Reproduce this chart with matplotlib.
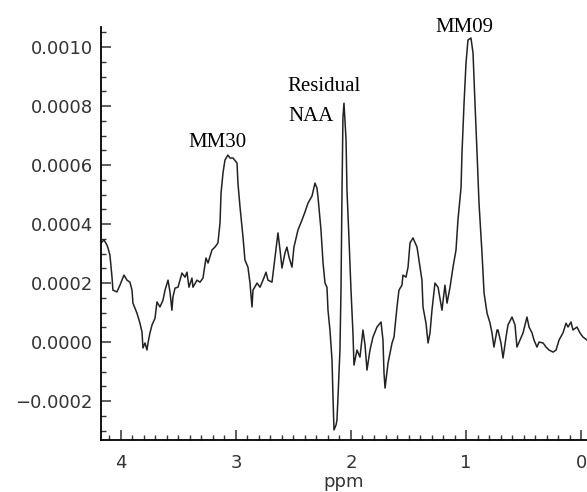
import matplotlib
matplotlib.use('Agg')
import matplotlib.pyplot as plt
from matplotlib.ticker import MultipleLocator, FuncFormatter

# chemical shift (ppm) left to right
ppm = [
    4.174, 4.148, 4.122, 4.113, 4.096, 4.078, 4.070, 4.035, 4.009, 3.974,
    3.948, 3.922, 3.904, 3.896, 3.861, 3.835, 3.817, 3.809, 3.791, 3.774,
    3.765, 3.748, 3.730, 3.704, 3.687, 3.661, 3.635, 3.617, 3.591, 3.574,
    3.557, 3.548, 3.530, 3.504, 3.470, 3.443, 3.426, 3.409, 3.383, 3.374,
    3.339, 3.313, 3.287, 3.261, 3.243, 3.209, 3.183, 3.157, 3.139, 3.130,
    3.113, 3.096, 3.070, 3.052, 3.026, 2.991, 2.983, 2.965, 2.939, 2.922,
    2.896, 2.878, 2.861, 2.852, 2.817, 2.791, 2.765, 2.739, 2.722, 2.687,
    2.661, 2.635, 2.617, 2.600, 2.574, 2.557, 2.539, 2.513, 2.496, 2.461,
    2.426, 2.400, 2.374, 2.339, 2.313, 2.296, 2.287, 2.261, 2.243, 2.226,
    2.209, 2.200, 2.183, 2.165, 2.157, 2.148, 2.130, 2.122, 2.113, 2.096,
    2.087, 2.078, 2.070, 2.061, 2.043, 2.035, 2.017, 2.000, 1.983, 1.974,
    1.948, 1.922, 1.896, 1.878, 1.861, 1.835, 1.809, 1.774, 1.739, 1.722,
    1.713, 1.704, 1.678, 1.643, 1.626, 1.600, 1.583, 1.557, 1.548, 1.522,
    1.504, 1.487, 1.461, 1.426, 1.400, 1.383, 1.374, 1.348, 1.330, 1.313,
    1.296, 1.270, 1.243, 1.209, 1.183, 1.165, 1.139, 1.113, 1.087, 1.070,
    1.043, 1.035, 1.017, 1.000, 0.983, 0.957, 0.939, 0.922, 0.904, 0.887,
    0.861, 0.843, 0.817, 0.791, 0.774, 0.757, 0.730, 0.722, 0.696, 0.678,
    0.652, 0.635, 0.600, 0.574, 0.557, 0.530, 0.504, 0.470, 0.452, 0.426,
    0.409, 0.383, 0.365, 0.330, 0.304, 0.278, 0.243, 0.217, 0.191, 0.157,
    0.130, 0.113, 0.087, 0.070, 0.035, 0.009, -0.017, -0.052,
]

# signal, in units of 1e-4
signal_e4 = [
    3.36, 3.46, 3.29, 3.19, 2.95, 2.20, 1.76, 1.70, 1.93, 2.27,
    2.10, 2.03, 1.76, 1.32, 0.98, 0.64, 0.34, -0.20, -0.03, -0.27,
    -0.03, 0.31, 0.58, 0.81, 1.36, 1.19, 1.42, 1.76, 2.10, 1.70,
    1.08, 1.53, 1.83, 1.86, 2.34, 2.20, 2.37, 1.86, 2.17, 1.86,
    2.10, 2.03, 2.17, 2.85, 2.68, 3.12, 3.22, 3.36, 4.03, 5.05,
    5.73, 6.17, 6.34, 6.24, 6.24, 6.07, 5.39, 4.58, 3.56, 2.78,
    2.54, 2.00, 1.19, 1.76, 2.00, 1.86, 2.10, 2.37, 2.10, 2.03,
    2.88, 3.70, 3.12, 2.51, 3.02, 3.22, 2.88, 2.54, 3.22, 3.80,
    4.14, 4.41, 4.71, 4.95, 5.39, 5.22, 4.92, 3.80, 2.68, 2.00,
    1.86, 1.08, 0.41, -0.61, -1.80, -2.98, -2.81, -2.64, -1.86, -0.27,
    1.76, 5.15, 7.63, 8.10, 6.85, 5.15, 3.46, 1.76, 0.31, -0.78,
    -0.27, -0.51, 0.41, -0.10, -0.95, -0.27, 0.17, 0.51, 0.68, 0.07,
    -1.05, -1.56, -0.71, -0.03, 0.17, 1.19, 1.76, 1.93, 2.27, 2.20,
    2.54, 3.36, 3.53, 3.22, 2.54, 2.10, 1.19, 0.64, -0.03, 0.31,
    1.08, 2.00, 1.86, 1.08, 1.93, 1.32, 1.86, 2.54, 3.12, 4.14,
    5.25, 6.41, 8.10, 9.46, 10.24, 10.31, 9.80, 8.10, 6.41, 4.71,
    3.02, 1.66, 0.98, 0.64, 0.31, -0.17, 0.41, 0.41, -0.03, -0.54,
    0.17, 0.58, 0.85, 0.58, -0.17, 0.07, 0.31, 0.85, 0.51, 0.31,
    0.07, -0.17, 0.00, -0.03, -0.17, -0.27, -0.34, -0.27, 0.07, 0.31,
    0.64, 0.51, 0.68, 0.41, 0.51, 0.31, 0.17, 0.07,
]
signal = [v * 1e-4 for v in signal_e4]

# peak labels: text, x (ppm), y, alignment
peak_labels = [
    ('MM30', 3.157, 0.00066, 'center'),
    ('Residual', 2.556, 0.000851, 'left'),
    ('NAA', 2.548, 0.000749, 'left'),
    ('MM09', 1.013, 0.00105, 'center'),
]

fig = plt.figure(figsize=(5.87, 4.92), dpi=100)
ax = fig.add_axes([0.172, 0.1057, 0.828, 0.8393])

ax.plot(ppm, signal, color='#222222', lw=1.1)

ax.set_xlim(4.174, -0.052)
ax.set_ylim(-0.000332, 0.001068)

ax.spines['top'].set_visible(False)
ax.spines['right'].set_visible(False)
ax.spines['left'].set_linewidth(1.3)
ax.spines['bottom'].set_linewidth(1.3)

ax.xaxis.set_major_locator(MultipleLocator(1))
ax.xaxis.set_minor_locator(MultipleLocator(0.1))
ax.yaxis.set_major_locator(MultipleLocator(0.0002))
ax.yaxis.set_minor_locator(MultipleLocator(0.00005))
ax.yaxis.set_major_formatter(
    FuncFormatter(lambda v, pos: f'{v:.4f}'.replace('-', '\u2212')))

ax.tick_params(which='major', direction='in', length=7, width=1.1,
               labelsize=13, colors='#333333')
ax.tick_params(axis='x', which='major', pad=10)
ax.tick_params(axis='y', which='major', pad=6)
ax.tick_params(which='minor', direction='in', length=3.5, width=1.0,
               colors='#333333')

ax.set_xlabel('ppm', fontsize=13, color='#333333', labelpad=1)

for text, x, y, ha in peak_labels:
    ax.text(x, y, text, ha=ha, va='baseline', fontsize=15,
            family='Liberation Serif', color='black')

fig.savefig('out.png', dpi=100)
